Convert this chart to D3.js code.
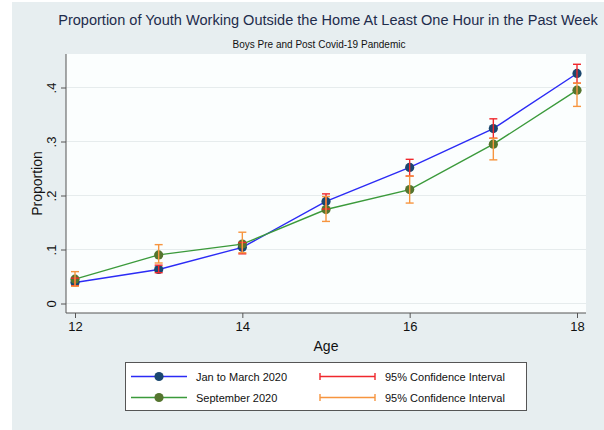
<!DOCTYPE html>
<html>
<head>
<meta charset="utf-8">
<script src="https://cdn.jsdelivr.net/npm/d3@7"></script>
<style>
  html, body { margin: 0; padding: 0; background: #ffffff; }
  svg { display: block; font-family: "Liberation Sans", Arial, Helvetica, sans-serif; }
</style>
</head>
<body>
<svg id="chart" width="604" height="430"></svg>
<script>
// Ages on the x axis
const ages = [12, 13, 14, 15, 16, 17, 18];

// Jan to March 2020: proportion and 95% CI bounds
const preValues = [0.039, 0.063, 0.104, 0.189, 0.252, 0.324, 0.426];
const preLower  = [0.033, 0.057, 0.092, 0.175, 0.236, 0.306, 0.408];
const preUpper  = [0.047, 0.071, 0.113, 0.203, 0.267, 0.342, 0.443];

// September 2020: proportion and 95% CI bounds
const postValues = [0.045, 0.090, 0.110, 0.174, 0.211, 0.295, 0.395];
const postLower  = [0.032, 0.075, 0.094, 0.152, 0.186, 0.266, 0.365];
const postUpper  = [0.059, 0.109, 0.132, 0.198, 0.236, 0.306, 0.408];

const yTicks = [0, 0.1, 0.2, 0.3, 0.4];
const yTickLabels = ["0", ".1", ".2", ".3", ".4"];
const xTicks = [12, 14, 16, 18];

const svg = d3.select("#chart");

// outer graph region
svg.append("rect").attr("x", 12).attr("y", 2).attr("width", 592).attr("height", 428)
  .attr("fill", "#e7eef0");

const plot = { left: 66, right: 586, top: 54, bottom: 313 };

svg.append("rect")
  .attr("x", plot.left).attr("y", plot.top)
  .attr("width", plot.right - plot.left).attr("height", plot.bottom - plot.top)
  .attr("fill", "#fbfefe");

const x = d3.scaleLinear().domain([12, 18]).range([75, 577]);
const y = d3.scaleLinear().domain([0, 0.4]).range([303.5, 87.5]);

// horizontal grid lines
svg.append("g").selectAll("line").data(yTicks).join("line")
  .attr("x1", plot.left).attr("x2", plot.right)
  .attr("y1", d => y(d)).attr("y2", d => y(d))
  .attr("stroke", "#e6eced").attr("stroke-width", 1.2);

// y axis
const yAxis = svg.append("g").attr("transform", `translate(${plot.left},0)`)
  .call(d3.axisLeft(y).tickValues(yTicks).tickSize(5).tickFormat((d, i) => yTickLabels[i]));
yAxis.select(".domain").attr("d", `M0,${plot.top}V${plot.bottom}`).attr("stroke", "#555");
yAxis.selectAll(".tick line").attr("stroke", "#555");
yAxis.selectAll(".tick text")
  .attr("font-size", 13).attr("fill", "#111")
  .attr("transform", "rotate(-90)")
  .attr("x", 0).attr("y", -10).attr("dy", 0)
  .attr("text-anchor", "middle");

// x axis
const xAxis = svg.append("g").attr("transform", `translate(0,${plot.bottom})`)
  .call(d3.axisBottom(x).tickValues(xTicks).tickSize(5).tickFormat(d3.format("d")));
xAxis.select(".domain").attr("d", `M${plot.left},0H${plot.right}`).attr("stroke", "#555");
xAxis.selectAll(".tick line").attr("stroke", "#555");
xAxis.selectAll(".tick text").attr("font-size", 13).attr("fill", "#111").attr("y", 9).attr("dy", "0.71em");

// axis titles
svg.append("text").attr("x", 326).attr("y", 351).attr("text-anchor", "middle")
  .attr("font-size", 14).attr("fill", "#111").text("Age");
svg.append("text").attr("transform", "translate(42,183.5) rotate(-90)")
  .attr("text-anchor", "middle").attr("font-size", 14).attr("fill", "#111").text("Proportion");

// titles
const title = svg.append("text").attr("x", 328).attr("y", 25).attr("text-anchor", "middle")
  .attr("font-size", 14).attr("fill", "#1e2c4c")
  .text("Proportion of Youth Working Outside the Home At Least One Hour in the Past Week");
const tw = title.node().getComputedTextLength();
title.attr("font-size", 14 * 540 / tw);
svg.append("text").attr("x", 319).attr("y", 48).attr("text-anchor", "middle")
  .attr("font-size", 10).attr("fill", "#111").text("Boys Pre and Post Covid-19 Pandemic");

const series = [
  { values: preValues, lower: preLower, upper: preUpper, line: "#2b2bf5", marker: "#1a476f", ci: "#f0282d" },
  { values: postValues, lower: postLower, upper: postUpper, line: "#3b9a3b", marker: "#55752f", ci: "#f7953f" }
];

const lineGen = d3.line().x(d => x(d.age)).y(d => y(d.v));

// connected lines with markers
series.forEach(s => {
  const pts = ages.map((a, i) => ({ age: a, v: s.values[i] }));
  svg.append("path").datum(pts).attr("d", lineGen)
    .attr("fill", "none").attr("stroke", s.line).attr("stroke-width", 1.4);
  svg.append("g").selectAll("circle").data(pts).join("circle")
    .attr("cx", d => x(d.age)).attr("cy", d => y(d.v)).attr("r", 4.6)
    .attr("fill", s.marker);
});

// confidence interval caps
series.forEach(s => {
  const g = svg.append("g").attr("stroke", s.ci).attr("stroke-width", 1.4);
  ages.forEach((a, i) => {
    const cx = x(a);
    g.append("line").attr("x1", cx).attr("x2", cx).attr("y1", y(s.lower[i])).attr("y2", y(s.upper[i]));
    g.append("line").attr("x1", cx - 4).attr("x2", cx + 4).attr("y1", y(s.lower[i])).attr("y2", y(s.lower[i]));
    g.append("line").attr("x1", cx - 4).attr("x2", cx + 4).attr("y1", y(s.upper[i])).attr("y2", y(s.upper[i]));
  });
});

// legend
const legend = svg.append("g");
legend.append("rect").attr("x", 125.5).attr("y", 362.5).attr("width", 401).attr("height", 48)
  .attr("fill", "#ffffff").attr("stroke", "#555").attr("stroke-width", 1);
const legendRows = [
  { label: "Jan to March 2020", s: series[0], cy: 376.5 },
  { label: "September 2020", s: series[1], cy: 397.5 }
];
legendRows.forEach(r => {
  legend.append("line").attr("x1", 131).attr("x2", 187).attr("y1", r.cy).attr("y2", r.cy)
    .attr("stroke", r.s.line).attr("stroke-width", 1.4);
  legend.append("circle").attr("cx", 159).attr("cy", r.cy).attr("r", 4.6).attr("fill", r.s.marker);
  legend.append("text").attr("x", 196).attr("y", r.cy + 4).attr("font-size", 11).attr("fill", "#111").text(r.label);
  const cg = legend.append("g").attr("stroke", r.s.ci).attr("stroke-width", 1.4);
  cg.append("line").attr("x1", 320).attr("x2", 375).attr("y1", r.cy).attr("y2", r.cy);
  cg.append("line").attr("x1", 320).attr("x2", 320).attr("y1", r.cy - 3.5).attr("y2", r.cy + 3.5);
  cg.append("line").attr("x1", 375).attr("x2", 375).attr("y1", r.cy - 3.5).attr("y2", r.cy + 3.5);
  legend.append("text").attr("x", 385).attr("y", r.cy + 4).attr("font-size", 11).attr("fill", "#111").text("95% Confidence Interval");
});
</script>
</body>
</html>
